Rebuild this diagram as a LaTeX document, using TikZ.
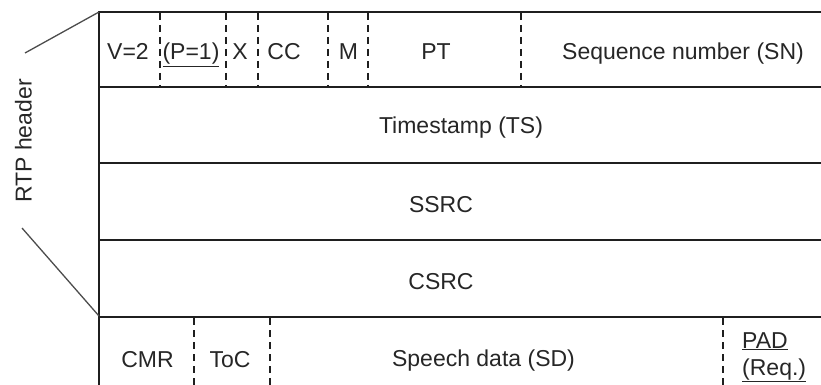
\documentclass[tikz,border=0pt]{standalone}
\usepackage{fontspec}
\setmainfont{Liberation Sans}
\begin{document}
\begin{tikzpicture}[x=1pt,y=-1pt,
  frame/.style={line width=2.2pt,draw=black!88},
  dsh/.style={line width=2pt,draw=black!88,dash pattern=on 7pt off 5pt},
  brace/.style={line width=1.3pt,draw=black!70},
  lbl/.style={font=\fontsize{23}{27}\selectfont,inner sep=0pt,text=black!85,anchor=base}]
\useasboundingbox (0,0) rectangle (821,385);
% frame coordinates
\coordinate (tl) at (99,12);
\coordinate (bl) at (99,390);
\coordinate (r1l) at (99,87);   \coordinate (r1r) at (830,87);
\coordinate (r2l) at (99,163);  \coordinate (r2r) at (830,163);
\coordinate (r3l) at (99,240);  \coordinate (r3r) at (830,240);
\coordinate (r4l) at (99,317);  \coordinate (r4r) at (830,317);
\coordinate (tr) at (830,12);
\draw[frame] (tr) -- (tl) -- (bl);
\draw[frame] (r1l) -- (r1r);
\draw[frame] (r2l) -- (r2r);
\draw[frame] (r3l) -- (r3r);
\draw[frame] (r4l) -- (r4r);
% dashed separators top row
\foreach \x [count=\i] in {160,226,258,328,368,521}{
  \coordinate (dt\i) at (\x,13);
  \coordinate (db\i) at (\x,87);
  \draw[dsh] (dt\i) -- (db\i);
}
% dashed separators bottom row
\foreach \x [count=\i] in {194,270,723}{
  \coordinate (et\i) at (\x,318);
  \coordinate (eb\i) at (\x,390);
  \draw[dsh] (et\i) -- (eb\i);
}
% brace lines
\coordinate (bt) at (25,53);
\coordinate (bb) at (22,228);
\coordinate (bbe) at (99,316);
\draw[brace] (tl) -- (bt);
\draw[brace] (bb) -- (bbe);
\node[lbl,rotate=90,anchor=center] (rtp) at (23.5,141) {RTP header};
% top row texts
\node[lbl] (v) at (128,60) {V=2};
\node[lbl] (p) at (191,60) {\underline{(P=1)}};
\node[lbl] (x) at (240,60) {X};
\node[lbl] (cc) at (284,60) {CC};
\node[lbl] (m) at (348.5,60) {M};
\node[lbl] (pt) at (436,60) {PT};
\node[lbl] (sn) at (683,60) {Sequence number (SN)};
% rows
\node[lbl] (ts) at (461,133) {Timestamp (TS)};
\node[lbl] (ssrc) at (441,212) {SSRC};
\node[lbl] (csrc) at (441,289) {CSRC};
% bottom row
\node[lbl] (cmr) at (147.5,367) {CMR};
\node[lbl] (toc) at (230,367) {ToC};
\node[lbl] (sd) at (483.5,366) {Speech data (SD)};
\node[lbl,anchor=base west] (pad) at (742,348) {\underline{PAD}};
\node[lbl,anchor=base west] (req) at (742,375) {\underline{(Req.)}};
\end{tikzpicture}
\end{document}
